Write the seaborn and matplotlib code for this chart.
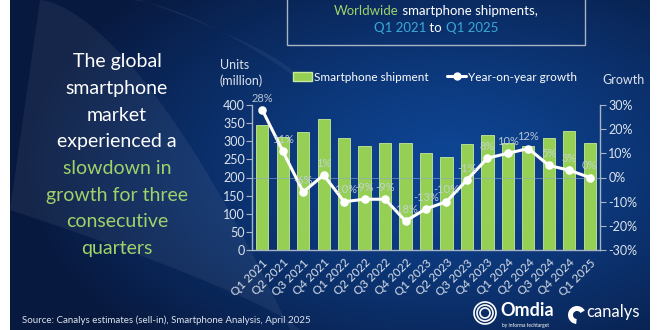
import numpy as np
import pandas as pd
import matplotlib
matplotlib.use("Agg")
import matplotlib.pyplot as plt
import seaborn as sns
from matplotlib.colors import to_rgb
from matplotlib.patches import Patch, Rectangle, Circle, Wedge, Polygon
from matplotlib.lines import Line2D

# ---------------- data ----------------
quarters = ["Q1 2021", "Q2 2021", "Q3 2021", "Q4 2021", "Q1 2022", "Q2 2022",
            "Q3 2022", "Q4 2022", "Q1 2023", "Q2 2023", "Q3 2023", "Q4 2023",
            "Q1 2024", "Q2 2024", "Q3 2024", "Q4 2024", "Q1 2025"]
shipments = [346, 312, 325, 361, 310, 287, 296, 296, 268, 257, 292, 318,
             294, 287, 309, 327, 296]
growth = [28, 11, -6, 1, -10, -9, -9, -18, -13, -10, -1, 8, 10, 12, 5, 3, 0]
growth_labels = ["28%", "11%", "-6%", "1%", "-10%", "-9%", "-9%", "-18%", "-13%",
                 "-10%", "-1%", "8%", "10%", "12%", "5%", "3%", "0%"]
unit_ticks = [0, 50, 100, 150, 200, 250, 300, 350, 400]
growth_ticks = [-30, -20, -10, 0, 10, 20, 30]
headline_white = ["The global", "smartphone", "market", "experienced a"]
headline_green = ["slowdown in", "growth for three", "consecutive", "quarters"]
source_text = "Source: Canalys estimates (sell-in), Smartphone Analysis, April 2025"

# ---------------- style ----------------
sns.set_style("white")
plt.rcParams["font.family"] = ["Lato", "DejaVu Sans"]

GREEN = "#95d054"
GREEN_EDGE = "#c6e99c"
TXT_GREEN = "#9fd36a"
CYAN = "#39a9d8"
LIGHT = "#dde3ec"
SPINE = "#a9b3c3"

W, H = 660, 330
fig = plt.figure(figsize=(6.6, 3.3), dpi=100, facecolor="white")


def fx(px):
    return px / W


def fy(py):
    return 1 - py / H


# ---------------- background ----------------
bg = fig.add_axes([fx(10), 0, fx(640), 1], zorder=-10)
yy, xx = np.mgrid[0:330, 10:650]
d = np.sqrt(((xx - 450) / 430.0) ** 2 + ((yy - 165) / 250.0) ** 2)
d = np.clip(d, 0, 1) ** 1.2
c0 = np.array(to_rgb("#0e4696"))
c1 = np.array(to_rgb("#08193f"))
img = c0 * (1 - d[..., None]) + c1 * d[..., None]
bg.imshow(img, extent=(10, 650, 330, 0), aspect="auto", interpolation="bilinear")
# lighter swoosh
t = np.linspace(0, 1, 60)
upper = np.column_stack([40 + 250 * t, 0 + 330 * t ** 1.6])
lower = np.column_stack([300 - 290 * t, 330 - 120 * t ** 0.8])
bg.add_patch(Polygon(np.vstack([upper, lower]), closed=True, fc="white",
                     ec="none", alpha=0.06))
t2 = np.linspace(0, 1, 60)
band = np.column_stack([130 + 170 * t2, 0 + 80 * t2 ** 1.5])
band2 = np.column_stack([300 - 160 * t2, 80 - 80 * t2 ** 0.7])
bg.add_patch(Polygon(np.vstack([band, band2]), closed=True, fc="white",
                     ec="none", alpha=0.05))
bg.set_xlim(10, 650)
bg.set_ylim(330, 0)
bg.axis("off")

# ---------------- main chart ----------------
df = pd.DataFrame({"quarter": quarters, "shipments": shipments, "growth": growth})

ax = fig.add_axes([fx(252), fy(250), fx(348), fy(105) - fy(250)])
ax.set_facecolor("none")
sns.barplot(data=df, x="quarter", y="shipments", color=GREEN, saturation=1,
            width=0.6, edgecolor=GREEN_EDGE, linewidth=0.6, ax=ax, errorbar=None)

ax2 = ax.twinx()
ax2.axhline(0, color="#8fa6cc", lw=0.7, alpha=0.6, zorder=0)
sns.pointplot(data=df, x="quarter", y="growth", color="white", ax=ax2,
              errorbar=None, markersize=4.5, linewidth=2.2)

ax.set_xlim(-0.5, len(quarters) - 0.5)
ax.set_ylim(0, 400)
ax2.set_ylim(-30, 30)
ax.set_yticks(unit_ticks)
ax2.set_yticks(growth_ticks)
ax2.set_yticklabels([f"{v}%" for v in growth_ticks])
ax.set_xticks(range(len(quarters)))
ax.set_xticklabels(quarters, rotation=45, ha="right", rotation_mode="anchor")
ax.set_xlabel("")
ax.set_ylabel("")
ax2.set_xlabel("")
ax2.set_ylabel("")

for s in ["top", "right"]:
    ax.spines[s].set_visible(False)
for s in ["left", "bottom"]:
    ax.spines[s].set_color(SPINE)
    ax.spines[s].set_linewidth(1)
for s in ["top", "left", "bottom"]:
    ax2.spines[s].set_visible(False)
ax2.spines["right"].set_color(SPINE)
ax2.spines["right"].set_linewidth(1)

ax.tick_params(axis="y", left=True, length=4, color=SPINE, labelcolor=LIGHT,
               labelsize=9, pad=1)
ax.tick_params(axis="x", length=0, labelcolor=LIGHT, labelsize=8.5, pad=5)
ax2.tick_params(axis="y", right=True, length=4, color=SPINE, labelcolor=LIGHT,
                labelsize=9, pad=2)

for i, (g, lab) in enumerate(zip(growth, growth_labels)):
    ax2.annotate(lab, (i, g), xytext=(0, 4.5), textcoords="offset points",
                 ha="center", va="bottom", fontsize=8, color="#c9d2de",
                 alpha=0.9)

# axis titles
fig.text(fx(220), fy(65), "Units", color=LIGHT, fontsize=9, ha="left", va="center")
fig.text(fx(220), fy(81), "(million)", color=LIGHT, fontsize=9, ha="left", va="center")
fig.text(fx(602), fy(80), "Growth", color=LIGHT, fontsize=9, ha="left", va="center")

# legend
handles = [Patch(facecolor=GREEN, edgecolor=GREEN_EDGE),
           Line2D([], [], color="white", marker="o", lw=2.2, markersize=5)]
fig.legend(handles, ["Smartphone shipment", "Year-on-year growth"], ncol=2,
           loc="center left", bbox_to_anchor=(fx(293), fy(77)), frameon=False,
           fontsize=8.5, labelcolor="white", handlelength=1.6, handleheight=0.8,
           columnspacing=1.6, handletextpad=0.15, borderaxespad=0, borderpad=0)

# ---------------- title box ----------------
bg.add_patch(Rectangle((287, -2), 298, 47, fill=False, ec="#aab3c3", lw=1))
renderer = fig.canvas.get_renderer()


def multicolor(y, parts, cx, size):
    texts = [bg.text(0, y, s, color=c, fontsize=size, ha="left", va="center")
             for s, c in parts]
    widths = [tt.get_window_extent(renderer).width for tt in texts]
    x = cx - sum(widths) / 2
    for tt, w in zip(texts, widths):
        tt.set_x(x)
        x += w


multicolor(11, [("Worldwide", TXT_GREEN), (" smartphone shipments,", "white")], 436, 9.5)
multicolor(28, [("Q1 2021", CYAN), (" to ", "white"), ("Q1 2025", CYAN)], 436, 9.5)

# ---------------- headline ----------------
for k, line in enumerate(headline_white + headline_green):
    col = "white" if k < len(headline_white) else TXT_GREEN
    fig.text(fx(117), fy(62 + 26.6 * k), line, color=col, fontsize=14,
             ha="center", va="center")

# ---------------- source & logos ----------------
fig.text(fx(22), fy(320), source_text, color=LIGHT, fontsize=7, ha="left",
         va="center")

for r, lw in [(11, 1.2), (8, 1.2), (5, 1.2)]:
    bg.add_patch(Circle((485, 313), r, fill=False, ec="white", lw=lw))
bg.text(500, 311, "Omdia", color="white", fontsize=13, fontweight="bold",
        ha="left", va="center")
bg.text(502, 325, "by informa techtarget", color="white", fontsize=3.5,
        ha="left", va="center")
bg.add_patch(Wedge((577, 315), 9, 95, 330, width=5, fc="white", ec="none"))
bg.text(586, 312, "canalys", color="white", fontsize=12, ha="left", va="center")

fig.savefig("out.png", dpi=100, facecolor="white")
